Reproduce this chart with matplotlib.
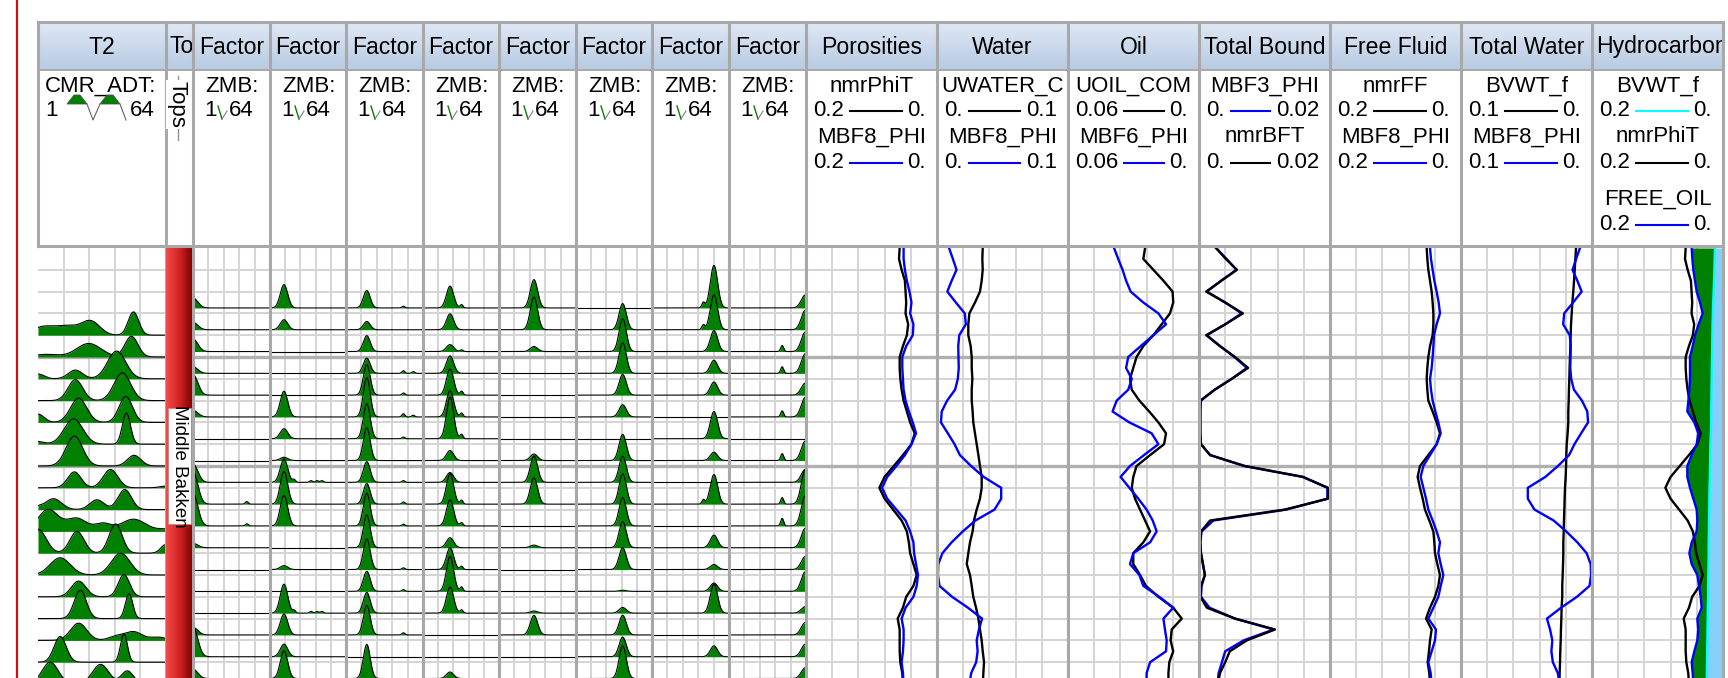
import numpy as np
import matplotlib.pyplot as plt
from matplotlib.colors import LinearSegmentedColormap
from matplotlib.patches import Rectangle, Polygon
from matplotlib.transforms import Bbox, TransformedBbox

plt.rcParams['font.family'] = ['Liberation Sans', 'DejaVu Sans']

W, H = 1728, 678
FS = 16
FS_TITLE = 16.6

# ---- depth axis: grid steps below the top of the log window
DEPTH = np.arange(0, 20.5, 0.5)
MAJOR_DEPTHS = [5, 10]

# ---- curves (one value per DEPTH sample)
nmrPhiT = [0.057, 0.058, 0.054, 0.049, 0.048, 0.047, 0.048, 0.044, 0.046, 0.052,
           0.057, 0.057, 0.056, 0.054, 0.051, 0.046, 0.041, 0.034, 0.039, 0.052,
           0.066, 0.080, 0.088, 0.080, 0.067, 0.054, 0.046, 0.043, 0.041, 0.036,
           0.031, 0.036, 0.047, 0.052, 0.060, 0.057, 0.057, 0.057, 0.056, 0.053, 0.052]
por_MBF8 = [0.051, 0.051, 0.049, 0.046, 0.042, 0.039, 0.041, 0.036, 0.037, 0.047,
            0.053, 0.053, 0.052, 0.051, 0.048, 0.043, 0.037, 0.032, 0.039, 0.049,
            0.062, 0.076, 0.084, 0.076, 0.062, 0.048, 0.041, 0.036, 0.035, 0.032,
            0.029, 0.031, 0.036, 0.048, 0.054, 0.051, 0.051, 0.052, 0.054, 0.052, 0.051]
UWATER_C = [0.0349, 0.0346, 0.0349, 0.0341, 0.0328, 0.0290, 0.0247, 0.0239, 0.0239, 0.0257,
            0.0265, 0.0265, 0.0270, 0.0265, 0.0265, 0.0272, 0.0277, 0.0290, 0.0303, 0.0316,
            0.0328, 0.0341, 0.0341, 0.0328, 0.0303, 0.0282, 0.0272, 0.0252, 0.0239, 0.0227,
            0.0252, 0.0265, 0.0277, 0.0298, 0.0316, 0.0328, 0.0341, 0.0349, 0.0359, 0.0354, 0.0349]
wat_MBF8 = [0.0092, 0.0121, 0.0149, 0.0112, 0.0079, 0.0144, 0.0212, 0.0220, 0.0170, 0.0162,
            0.0164, 0.0166, 0.0159, 0.0138, 0.0077, 0.0036, 0.0030, 0.0083, 0.0134, 0.0175,
            0.0260, 0.0356, 0.0490, 0.0490, 0.0439, 0.0293, 0.0197, 0.0112, 0.0041, 0.0010,
            0.0007, 0.0019, 0.0115, 0.0236, 0.0344, 0.0320, 0.0303, 0.0310, 0.0299, 0.0261, 0.0248]
UOIL_COM = [0.0247, 0.0255, 0.0209, 0.0163, 0.0121, 0.0118, 0.0133, 0.0171, 0.0209, 0.0255,
            0.0286, 0.0301, 0.0316, 0.0308, 0.0273, 0.0228, 0.0186, 0.0151, 0.0160, 0.0224,
            0.0286, 0.0301, 0.0308, 0.0293, 0.0270, 0.0247, 0.0224, 0.0255, 0.0301, 0.0301,
            0.0270, 0.0243, 0.0186, 0.0118, 0.0079, 0.0125, 0.0130, 0.0118, 0.0136, 0.0140, 0.0140]
MBF6_PHI = [0.0389, 0.0370, 0.0350, 0.0334, 0.0313, 0.0255, 0.0186, 0.0151, 0.0209, 0.0267,
            0.0324, 0.0334, 0.0308, 0.0324, 0.0377, 0.0396, 0.0319, 0.0217, 0.0186, 0.0252,
            0.0316, 0.0359, 0.0319, 0.0278, 0.0240, 0.0212, 0.0194, 0.0224, 0.0301, 0.0316,
            0.0273, 0.0255, 0.0182, 0.0118, 0.0163, 0.0156, 0.0148, 0.0151, 0.0224, 0.0240, 0.0240]
nmrBFT = [0.0026, 0.0041, 0.0058, 0.0034, 0.0011, 0.0040, 0.0067, 0.0040, 0.0011, 0.0032,
          0.0055, 0.0075, 0.0050, 0.0024, 0.0002, 0.0002, 0.0002, 0.0002, 0.0003, 0.0017,
          0.0070, 0.0159, 0.0197, 0.0197, 0.0131, 0.0017, 0.0003, 0.0002, 0.0003, 0.0006,
          0.0009, 0.0003, 0.0002, 0.0012, 0.0055, 0.0116, 0.0073, 0.0047, 0.0040, 0.0032, 0.0029]
MBF3_PHI = [0.0026, 0.0042, 0.0057, 0.0034, 0.0012, 0.0040, 0.0065, 0.0040, 0.0012, 0.0032,
            0.0054, 0.0073, 0.0050, 0.0024, 0.0003, 0.0002, 0.0002, 0.0002, 0.0003, 0.0017,
            0.0069, 0.0158, 0.0196, 0.0196, 0.0133, 0.0022, 0.0004, 0.0002, 0.0003, 0.0006,
            0.0009, 0.0004, 0.0003, 0.0016, 0.0055, 0.0114, 0.0068, 0.0040, 0.0035, 0.0030, 0.0028]
nmrFF = [0.0524, 0.0514, 0.0499, 0.0473, 0.0448, 0.0433, 0.0422, 0.0422, 0.0433, 0.0473,
         0.0499, 0.0514, 0.0524, 0.0514, 0.0499, 0.0433, 0.0372, 0.0321, 0.0372, 0.0499,
         0.0626, 0.0662, 0.0626, 0.0585, 0.0550, 0.0484, 0.0422, 0.0407, 0.0397, 0.0361,
         0.0321, 0.0346, 0.0397, 0.0473, 0.0534, 0.0448, 0.0473, 0.0489, 0.0509, 0.0484, 0.0473]
ff_MBF8 = [0.0473, 0.0458, 0.0433, 0.0407, 0.0372, 0.0341, 0.0321, 0.0372, 0.0412, 0.0422,
           0.0433, 0.0448, 0.0473, 0.0458, 0.0433, 0.0392, 0.0346, 0.0310, 0.0372, 0.0473,
           0.0575, 0.0616, 0.0575, 0.0534, 0.0499, 0.0433, 0.0372, 0.0321, 0.0346, 0.0310,
           0.0270, 0.0310, 0.0346, 0.0422, 0.0499, 0.0382, 0.0397, 0.0448, 0.0499, 0.0463, 0.0448]
BVWT_f = [0.0122, 0.0127, 0.0132, 0.0137, 0.0143, 0.0150, 0.0155, 0.0160, 0.0163, 0.0165,
          0.0168, 0.0171, 0.0173, 0.0176, 0.0178, 0.0181, 0.0181, 0.0186, 0.0193, 0.0196,
          0.0198, 0.0201, 0.0206, 0.0209, 0.0211, 0.0214, 0.0216, 0.0219, 0.0219, 0.0221,
          0.0224, 0.0227, 0.0227, 0.0232, 0.0234, 0.0237, 0.0239, 0.0242, 0.0244, 0.0247, 0.0249]
FREE_OIL = [0.0478, 0.0468, 0.0453, 0.0428, 0.0402, 0.0351, 0.0310, 0.0372, 0.0428, 0.0463,
            0.0504, 0.0504, 0.0504, 0.0514, 0.0529, 0.0545, 0.0438, 0.0377, 0.0402, 0.0478,
            0.0545, 0.0545, 0.0504, 0.0453, 0.0402, 0.0392, 0.0402, 0.0478, 0.0514, 0.0478,
            0.0392, 0.0366, 0.0341, 0.0326, 0.0392, 0.0377, 0.0392, 0.0438, 0.0478, 0.0463, 0.0453]

# ---- T2 spectra: one row per integer depth, peaks as (bin, amplitude in rows, width in bins)
T2_DEPTHS = list(range(4, 21))
T2_PEAKS = [
    [(3, 0.35, 5), (15, 0.42, 6), (27, 0.62, 4.5), (48, 1.07, 2.6)],
    [(5, 0.12, 6), (26, 0.62, 6), (47, 0.95, 3.2)],
    [(1, 0.22, 3), (19.4, 0.40, 3.5), (39.7, 1.27, 4.5)],
    [(19.4, 0.96, 3.6), (42.5, 1.27, 4.1)],
    [(1, 0.38, 3), (21, 1.11, 4), (44.2, 1.19, 3.3)],
    [(1, 0.12, 3), (18.5, 1.16, 4.6), (44.5, 1.43, 2)],
    [(18.9, 1.37, 4.1), (48.3, 0.49, 3.3)],
    [(18.9, 0.73, 3.3), (36.7, 0.84, 3.6), (64, 0.08, 3)],
    [(1, 0.10, 2), (8.6, 0.50, 4), (30, 0.45, 3.5), (43.7, 0.92, 3.3)],
    [(6, 1.0, 5), (20, 0.6, 5), (33, 0.35, 4), (48, 0.56, 6), (64, 0.10, 4)],
    [(1, 1.1, 4), (20.2, 1.0, 3.5), (39.2, 1.34, 3.2), (64, 0.40, 2.5)],
    [(11.9, 0.79, 5), (41.7, 1.0, 4.6)],
    [(21, 0.72, 3.6), (43.3, 1.02, 2.8)],
    [(21.8, 1.3, 3), (45.8, 1.15, 1.8)],
    [(21, 0.79, 4), (40, 0.2, 4), (48.3, 0.38, 4), (60, 0.15, 4)],
    [(11.9, 1.18, 3), (43.3, 1.3, 1.7)],
    [(7, 1.0, 4), (31.8, 0.9, 4), (45, 0.6, 3)],
]

# ---- factor loadings: 8 factors, 18 rows each
FACTOR_DEPTHS = [2.75 + k for k in range(18)]
FACTOR_BIN = [1, 12.6, 18, 23.4, 29.6, 39.7, 51.7, 63.5]
FACTOR_WIDTH = [3.9, 3.1, 2.8, 3.0, 3.0, 3.0, 3.0, 3.3]
FACTOR_AMP = [
    [0.46, 0.34, 0.58, 0.30, 0.95, 0.30, 0, 0, 0.85, 1.5, 1.5, 0.20, 0, 0, 0, 0.35, 1.35, 0.43],
    [1.07, 0.46, 0, 0, 0, 1.18, 0.46, 0.15, 1.07, 1.5, 1.4, 0, 0.18, 0, 1.33, 0.96, 0.58, 1.27],
    [0.80, 0.38, 0.73, 0.70, 1.4, 1.8, 1.6, 1.5, 0.95, 0.95, 1.5, 1.5, 1.4, 0.92, 0.95, 1.35, 0, 1.57],
    [1.0, 0.73, 0.32, 0.80, 1.2, 1.2, 1.9, 0.46, 0.45, 1.4, 1.2, 0.46, 1.0, 1.6, 1.2, 0, 0, 0.30],
    [1.3, 1.5, 0.23, 0, 0, 0, 0, 0.30, 1.2, 1.2, 0, 0.12, 0, 0, 0.10, 0.90, 0, 0],
    [0, 1.2, 1.5, 1.4, 0.95, 0.56, 0, 1.2, 1.2, 1.4, 1.3, 1.2, 1.0, 0.05, 0.26, 0.90, 0.90, 1.5],
    [1.95, 1.6, 0.96, 0.60, 0.60, 0, 1.25, 0.38, 0, 1.36, 0, 0.58, 0.23, 0.38, 1.33, 0, 0.50, 0],
    [0.60, 0.90, 0.90, 0.90, 0.56, 0.90, 0, 0.90, 0.60, 1.6, 1.4, 0.90, 0.60, 0.90, 0.30, 0.58, 0.58, 0.50],
]
# minor peaks: (factor, row, bin, amplitude)
FACTOR_MINOR = [
    (0, 9, 45, 0.12), (0, 10, 45, 0.10),
    (1, 8, 21, 0.12), (1, 8, 35, 0.08), (1, 8, 40, 0.08), (1, 8, 44, 0.08),
    (1, 14, 21, 0.12), (1, 14, 35, 0.08), (1, 14, 40, 0.08), (1, 14, 44, 0.08),
    (2, 0, 48, 0.08), (2, 3, 48, 0.12), (2, 3, 56, 0.08), (2, 4, 48, 0.10), (2, 5, 48, 0.15),
    (2, 5, 56, 0.08), (2, 6, 48, 0.08), (2, 8, 48, 0.08), (2, 9, 48, 0.10), (2, 10, 48, 0.08),
    (2, 12, 48, 0.08), (2, 13, 48, 0.08), (2, 15, 48, 0.10),
    (3, 0, 33, 0.15), (3, 2, 33, 0.08), (3, 4, 33, 0.18), (3, 5, 33, 0.18), (3, 6, 33, 0.20),
    (3, 9, 33, 0.18), (3, 10, 33, 0.15), (3, 12, 33, 0.15), (3, 13, 33, 0.20), (3, 14, 33, 0.15),
    (6, 0, 43, 0.25), (6, 1, 43, 0.22), (6, 9, 43, 0.20),
    (7, 2, 44.5, 0.28), (7, 3, 44.5, 0.30), (7, 5, 44.5, 0.28), (7, 7, 44.5, 0.32),
    (7, 9, 44.5, 0.30), (7, 10, 44.5, 0.35),
]

TOP_NAME = 'Middle Bakken'
TOP_LABEL_DEPTH = 10.0

# ---- layout (pixels)
T2_X = (38, 166)
TOPS_X = (166, 193)
FACTOR_EDGES = [193, 270, 346, 423, 499, 576, 652, 729, 806]
CURVE_EDGES = [806, 937, 1068, 1199, 1330, 1461, 1592, 1723]
HDR_TOP, HDR_MID, HDR_BOT = 22, 70, 246
DATA_TOP = 248
ROW_PX = 21.8
D_BOTTOM = (H - DATA_TOP) / ROW_PX

GREEN = '#008000'
BLUE = '#0000ff'
MINOR = '#d4d4d4'
MAJOR = '#b0b0b0'
BORDER = '#a8a8a8'

fig = plt.figure(figsize=(W / 100, H / 100), dpi=100)


def px_axes(x0, y0, x1, y1, **kw):
    return fig.add_axes([x0 / W, 1 - y1 / H, (x1 - x0) / W, (y1 - y0) / H], **kw)


def track(x0, x1, xlim):
    ax = px_axes(x0, DATA_TOP, x1, H)
    ax.set_xlim(*xlim)
    ax.set_ylim(D_BOTTOM, 0)
    ax.set_xticks(np.linspace(xlim[0], xlim[1], 6)[1:-1])
    ax.set_yticks(np.arange(1, 20))
    ax.set_axisbelow(True)
    ax.grid(True, color=MINOR, lw=1.4)
    ax.tick_params(length=0, labelbottom=False, labelleft=False)
    for d in MAJOR_DEPTHS:
        ax.axhline(d, color=MAJOR, lw=2.4, zorder=0.8)
    for side in ('top', 'bottom'):
        ax.spines[side].set_visible(False)
    for side in ('left', 'right'):
        ax.spines[side].set_color(BORDER)
        ax.spines[side].set_linewidth(2.2)
    return ax


BINS = np.linspace(1, 64, 400)


def spectrum_row(ax, base, peaks, z):
    amp = np.zeros_like(BINS)
    for c, a, s in peaks:
        amp += a * np.exp(-0.5 * ((BINS - c) / s) ** 2)
    ax.fill_between(BINS, base, base - amp, color=GREEN, lw=0, zorder=z)
    ax.plot(BINS, base - amp, color='black', lw=0.8, zorder=z + 0.001)


# ---- T2 track
ax = track(*T2_X, (1, 64))
ax.spines['left'].set_visible(False)
for i, (base, peaks) in enumerate(zip(T2_DEPTHS, T2_PEAKS)):
    spectrum_row(ax, base, peaks, 2 + i * 0.01)

# ---- tops track
ax = px_axes(TOPS_X[0], DATA_TOP, TOPS_X[1], H)
ax.set_xlim(0, 1)
ax.set_ylim(D_BOTTOM, 0)
red = LinearSegmentedColormap.from_list('top_red', ['#f54a4a', '#d02424', '#7c0000'])
ax.imshow(np.linspace(0, 1, 64)[None, :], cmap=red, aspect='auto',
          extent=(0, 1, D_BOTTOM, 0), interpolation='bilinear')
ax.add_patch(Rectangle((0.06, TOP_LABEL_DEPTH - 2.66), 0.88, 5.32, fc='white',
                       ec='#d08080', lw=0.6, zorder=3))
ax.text(0.5, TOP_LABEL_DEPTH, TOP_NAME, rotation=270, ha='center', va='center',
        fontsize=13.5, zorder=4)
ax.set_axis_off()

# ---- factor tracks
for f in range(8):
    ax = track(FACTOR_EDGES[f], FACTOR_EDGES[f + 1], (1, 64))
    for k, base in enumerate(FACTOR_DEPTHS):
        peaks = []
        if FACTOR_AMP[f][k] > 0:
            peaks.append((FACTOR_BIN[f], FACTOR_AMP[f][k], FACTOR_WIDTH[f]))
        peaks += [(b, a, 1.2) for ff, kk, b, a in FACTOR_MINOR if ff == f and kk == k]
        spectrum_row(ax, base, peaks, 2 + k * 0.01)

# ---- curve tracks
LW = 1.7
ax = track(CURVE_EDGES[0], CURVE_EDGES[1], (0.2, 0))
ax.plot(nmrPhiT, DEPTH, color='black', lw=LW)
ax.plot(por_MBF8, DEPTH, color=BLUE, lw=LW)

ax = track(CURVE_EDGES[1], CURVE_EDGES[2], (0, 0.1))
ax.plot(UWATER_C, DEPTH, color='black', lw=LW)
ax.plot(wat_MBF8, DEPTH, color=BLUE, lw=LW)

ax = track(CURVE_EDGES[2], CURVE_EDGES[3], (0.06, 0))
ax.plot(UOIL_COM, DEPTH, color='black', lw=LW)
ax.plot(MBF6_PHI, DEPTH, color=BLUE, lw=LW)

ax = track(CURVE_EDGES[3], CURVE_EDGES[4], (0, 0.02))
ax.plot(MBF3_PHI, DEPTH, color=BLUE, lw=LW)
ax.plot(nmrBFT, DEPTH, color='black', lw=LW)

ax = track(CURVE_EDGES[4], CURVE_EDGES[5], (0.2, 0))
ax.plot(nmrFF, DEPTH, color='black', lw=LW)
ax.plot(ff_MBF8, DEPTH, color=BLUE, lw=LW)

ax = track(CURVE_EDGES[5], CURVE_EDGES[6], (0.1, 0))
ax.plot(BVWT_f, DEPTH, color='black', lw=LW)
ax.plot(wat_MBF8, DEPTH, color=BLUE, lw=LW)

ax = track(CURVE_EDGES[6], CURVE_EDGES[7], (0.2, 0))
ax.fill_betweenx(DEPTH, FREE_OIL, BVWT_f, color=GREEN, lw=0, zorder=2)
ax.fill_betweenx(DEPTH, BVWT_f, 0, color='#87cefa', lw=0, zorder=2)
ax.plot(BVWT_f, DEPTH, color='cyan', lw=LW, zorder=3)
ax.plot(nmrPhiT, DEPTH, color='black', lw=LW, zorder=3)
ax.plot(FREE_OIL, DEPTH, color=BLUE, lw=LW, zorder=3)

# ---- header
hdr = fig.add_axes([0, 0, 1, 1], zorder=10)
hdr.set_xlim(0, W)
hdr.set_ylim(H, 0)
hdr.set_axis_off()
hdr.patch.set_visible(False)
rend = fig.canvas.get_renderer()

X0, X1 = T2_X[0], CURVE_EDGES[-1]
hdr.add_patch(Rectangle((X0, HDR_TOP), X1 - X0, HDR_BOT - HDR_TOP, fc='white', ec='none', zorder=0))
blue_hdr = LinearSegmentedColormap.from_list('hdr', ['#dfe8f4', '#b7cbe3'])
hdr.imshow(np.linspace(0, 1, 48)[:, None], cmap=blue_hdr, aspect='auto',
           extent=(X0, X1, HDR_MID, HDR_TOP), interpolation='bilinear', zorder=1)

edges = [T2_X[0], TOPS_X[0]] + FACTOR_EDGES + CURVE_EDGES[1:]
for x in edges:
    hdr.plot([x, x], [HDR_TOP, HDR_BOT], color=BORDER, lw=2.2, zorder=5)
for y in (HDR_TOP, HDR_MID, HDR_BOT):
    hdr.plot([X0, X1], [y, y], color=BORDER, lw=2.2 if y != HDR_MID else 1.4, zorder=5)
# red frame line on the left
hdr.plot([16.5, 16.5], [0, H], color='#cc1010', lw=1.6, zorder=5)


def clip_to(t, x0, x1):
    t.set_clip_box(TransformedBbox(Bbox([[x0 + 1, HDR_TOP], [x1 - 1, HDR_BOT]]), hdr.transData))
    t.set_clip_on(True)


def title(x0, x1, label):
    t = hdr.text((x0 + x1) / 2, (HDR_TOP + HDR_MID) / 2 + 1, label, ha='center',
                 va='center', fontsize=FS_TITLE, zorder=6)
    bb = t.get_window_extent(rend).transformed(hdr.transData.inverted())
    if bb.width > x1 - x0 - 8:
        t.set_ha('left')
        t.set_x(x0 + 4)
    clip_to(t, x0, x1)


NAME_Y = [86, 137, 199]
SCALE_Y = [110, 162, 224]

title(*T2_X, 'T2')
title(*TOPS_X, 'Tops')
for f in range(8):
    title(FACTOR_EDGES[f], FACTOR_EDGES[f + 1], 'Factor')

CURVE_HEADERS = [
    ('Porosities', [('nmrPhiT', '0.2', '0.', 'black'), ('MBF8_PHI', '0.2', '0.', BLUE)]),
    ('Water', [('UWATER_C', '0.', '0.1', 'black'), ('MBF8_PHI', '0.', '0.1', BLUE)]),
    ('Oil', [('UOIL_COM', '0.06', '0.', 'black'), ('MBF6_PHI', '0.06', '0.', BLUE)]),
    ('Total Bound', [('MBF3_PHI', '0.', '0.02', BLUE), ('nmrBFT', '0.', '0.02', 'black')]),
    ('Free Fluid', [('nmrFF', '0.2', '0.', 'black'), ('MBF8_PHI', '0.2', '0.', BLUE)]),
    ('Total Water', [('BVWT_f', '0.1', '0.', 'black'), ('MBF8_PHI', '0.1', '0.', BLUE)]),
    ('Hydrocarbon', [('BVWT_f', '0.2', '0.', 'cyan'), ('nmrPhiT', '0.2', '0.', 'black'),
                     ('FREE_OIL', '0.2', '0.', BLUE)]),
]

for i, (name, curves) in enumerate(CURVE_HEADERS):
    x0, x1 = CURVE_EDGES[i], CURVE_EDGES[i + 1]
    title(x0, x1, name)
    for j, (mnem, lo, hi, col) in enumerate(curves):
        t = hdr.text((x0 + x1) / 2, NAME_Y[j], mnem, ha='center', va='center', fontsize=FS, zorder=6)
        clip_to(t, x0, x1)
        tl = hdr.text(x0 + 7, SCALE_Y[j], lo, ha='left', va='center', fontsize=FS, zorder=6)
        tr = hdr.text(x1 - 11, SCALE_Y[j], hi, ha='right', va='center', fontsize=FS, zorder=6)
        a = tl.get_window_extent(rend).transformed(hdr.transData.inverted()).x1
        b = tr.get_window_extent(rend).transformed(hdr.transData.inverted()).x0
        hdr.plot([a + 6, b - 6], [SCALE_Y[j] + 1, SCALE_Y[j] + 1], color=col, lw=1.5, zorder=6)

# T2 legend with its little spectrum icon
hdr.text(T2_X[0] + 7, NAME_Y[0], 'CMR_ADT:', ha='left', va='center', fontsize=FS, zorder=6)
hdr.text(T2_X[0] + 7, SCALE_Y[0], '1', ha='left', va='center', fontsize=FS, zorder=6)
hdr.text(T2_X[1] - 11, SCALE_Y[0], '64', ha='right', va='center', fontsize=FS, zorder=6)
for hx in (67, 100):
    hdr.add_patch(Polygon([(hx, 104), (hx + 7, 95), (hx + 13, 95), (hx + 20, 104)],
                          closed=True, fc=GREEN, ec='#505050', lw=0.6, zorder=6))
hdr.plot([87, 93, 100], [104, 120, 104], color='#606060', lw=0.8, zorder=6)
hdr.plot([120, 126], [104, 120], color='#606060', lw=0.8, zorder=6)

# tops legend: rotated label on a thin line
hdr.plot([178, 178], [76, 140], color='#909090', lw=1.0, zorder=6)
hdr.text(177, 81, 'Tops', rotation=270, ha='center', va='top', fontsize=FS, zorder=7,
         bbox=dict(fc='white', ec='none', pad=0.5))

# factor legends
for f in range(8):
    x0 = FACTOR_EDGES[f]
    hdr.text(x0 + 12, NAME_Y[0], 'ZMB:', ha='left', va='center', fontsize=FS, zorder=6)
    hdr.text(x0 + 11, SCALE_Y[0], '1', ha='left', va='center', fontsize=FS, zorder=6)
    hdr.text(x0 + 36, SCALE_Y[0], '64', ha='left', va='center', fontsize=FS, zorder=6)
    hdr.plot([x0 + 25, x0 + 29], [106, 119], color=GREEN, lw=1.0, zorder=6)
    hdr.plot([x0 + 29, x0 + 34], [119, 111], color='#808080', lw=0.8, zorder=6)

fig.savefig('out.png', dpi=100, facecolor='white')
